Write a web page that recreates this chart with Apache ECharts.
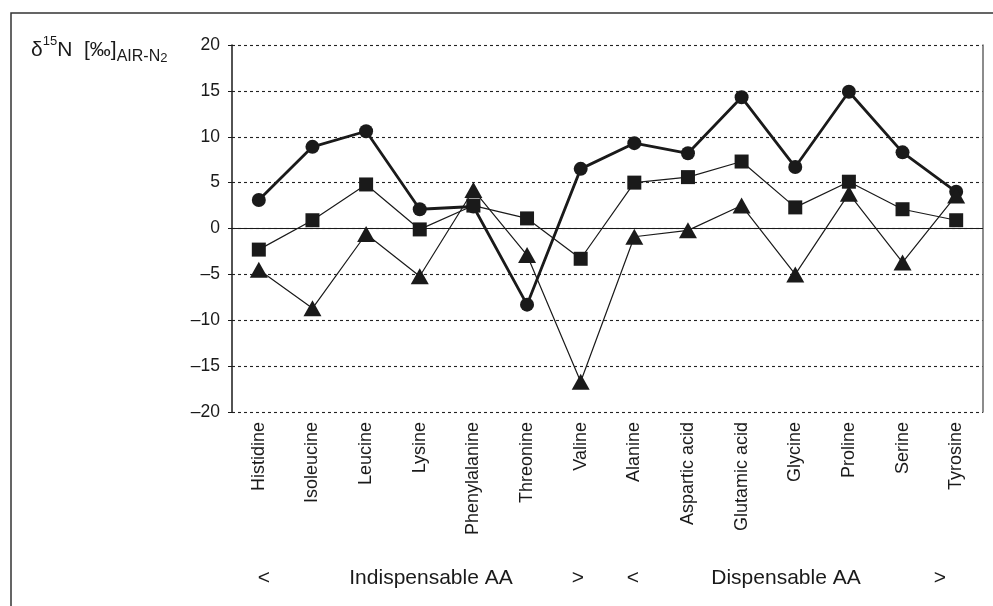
<!DOCTYPE html>
<html>
<head>
<meta charset="utf-8">
<script src="https://cdn.jsdelivr.net/npm/echarts@6/dist/echarts.min.js"></script>
<style>
html,body{margin:0;padding:0;background:#fff;}
#chart{width:993px;height:606px;}
</style>
</head>
<body>
<div id="chart"></div>
<script>
// ---- data ----
const categories = ['Histidine','Isoleucine','Leucine','Lysine','Phenylalanine','Threonine','Valine',
  'Alanine','Aspartic acid','Glutamic acid','Glycine','Proline','Serine','Tyrosine'];
const circleValues   = [3.1, 8.9, 10.6, 2.1, 2.4, -8.3, 6.5, 9.3, 8.2, 14.3, 6.7, 14.9, 8.3, 4.0];
const squareValues   = [-2.3, 0.9, 4.8, -0.1, 2.5, 1.1, -3.3, 5.0, 5.6, 7.3, 2.3, 5.1, 2.1, 0.9];
const triangleValues = [-4.5, -8.7, -0.6, -5.2, 4.2, -2.9, -16.7, -0.9, -0.2, 2.5, -5.0, 3.8, -3.7, 3.6];
const yTicks = [-20, -15, -10, -5, 0, 5, 10, 15, 20];
const groupLabels = ['<', 'Indispensable AA', '>', '<', 'Dispensable AA', '>'];

const FONT = '"Liberation Sans", Arial, Helvetica, sans-serif';
const INK = '#1a1a1a';

const chart = echarts.init(document.getElementById('chart'), null, {renderer: 'canvas'});

const yMin = yTicks[0], yMax = yTicks[yTicks.length - 1], yStep = yTicks[1] - yTicks[0];

const groupX = [264, 431, 578, 633, 786, 940];

const option = {
  backgroundColor: '#fff',
  animation: false,
  grid: {left: 232, right: 10, top: 45, bottom: 194, containLabel: false},
  xAxis: [{
    type: 'category',
    data: categories,
    boundaryGap: true,
    axisLine: {show: false},
    axisTick: {show: false},
    axisLabel: {
      interval: 0, rotate: 90, margin: 10,
      fontFamily: FONT, fontSize: 18, color: INK
    },
    splitLine: {show: false}
  }],
  yAxis: [{
    type: 'value',
    min: yMin, max: yMax, interval: yStep,
    axisLine: {show: true, lineStyle: {color: INK, width: 1.5}},
    axisTick: {show: true, length: 4, lineStyle: {color: INK, width: 1}},
    axisLabel: {
      margin: 12, fontFamily: FONT, fontSize: 17.5, color: INK,
      formatter: v => String(v).replace('-', '\u2013')
    },
    splitLine: {show: true, lineStyle: {color: '#222', width: 1.1, type: [3, 3]}}
  }, {
    type: 'value', position: 'right',
    min: yMin, max: yMax, interval: yStep,
    axisLine: {show: true, lineStyle: {color: '#666', width: 1.5}},
    axisTick: {show: false}, axisLabel: {show: false}, splitLine: {show: false}
  }],
  series: [{
    name: 'circle', type: 'line', data: circleValues,
    symbol: 'circle', symbolSize: 14,
    lineStyle: {color: INK, width: 2.8},
    itemStyle: {color: INK},
    z: 2,
    markLine: {
      silent: true, symbol: 'none', label: {show: false},
      lineStyle: {color: INK, width: 1.2, type: 'solid'},
      data: [{yAxis: 0}]
    }
  }, {
    name: 'square', type: 'line', data: squareValues,
    symbol: 'rect', symbolSize: 14,
    lineStyle: {color: INK, width: 1.2},
    itemStyle: {color: INK},
    z: 3
  }, {
    name: 'triangle', type: 'line', data: triangleValues,
    symbol: 'triangle', symbolSize: [18, 16],
    lineStyle: {color: INK, width: 1.2},
    itemStyle: {color: INK},
    z: 4
  }],
  graphic: [
    {type: 'rect', silent: true, shape: {x: 11, y: 13, width: 1200, height: 1200},
     style: {fill: 'none', stroke: '#333', lineWidth: 1.5}},
    {type: 'text', x: 31, y: 35, silent: true,
     style: {
       text: '{a|\u03b4}{sup|15}{a|N  [\u2030]}{sub|AIR-N}{sub2|2}',
       fill: INK,
       rich: {
         a: {fontFamily: FONT, fontSize: 21, lineHeight: 30, verticalAlign: 'middle', fill: INK},
         sup: {fontFamily: FONT, fontSize: 13, lineHeight: 26, verticalAlign: 'top', fill: INK},
         sub: {fontFamily: FONT, fontSize: 16, lineHeight: 19, verticalAlign: 'bottom', fill: INK},
         sub2: {fontFamily: FONT, fontSize: 13, lineHeight: 15, verticalAlign: 'bottom', fill: INK}
       }
     }}
  ].concat(groupLabels.map((t, i) => ({
    type: 'text', x: groupX[i], y: 578, silent: true,
    style: {text: t, fontFamily: FONT, fontSize: 21, fill: INK, align: 'center', verticalAlign: 'middle'}
  })))
};

chart.setOption(option);
</script>
</body>
</html>
